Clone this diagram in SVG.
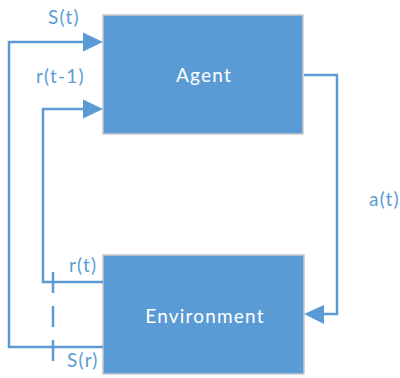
<svg xmlns="http://www.w3.org/2000/svg" width="400" height="378" viewBox="0 0 400 378">
<style>
.box{fill:#5b9bd5;stroke:#c8c8c8;stroke-width:1.5}
.bt{fill:#ffffff;font-family:Lato,"Open Sans",sans-serif;font-size:19px;letter-spacing:1.2px;text-anchor:middle}
.lb{fill:#5b9bd5;font-family:Lato,"Open Sans",sans-serif;font-size:19px;letter-spacing:1.2px}
.ln{fill:none;stroke:#5b9bd5;stroke-width:2.5}
.ah{fill:#5b9bd5}
</style>
<rect width="400" height="378" fill="#ffffff"/>
<g id="agent">
<rect class="box" x="103" y="15" width="200" height="119"/>
<text class="bt" x="204" y="82">Agent</text>
</g>
<g id="environment">
<rect class="box" x="103" y="255" width="201" height="119"/>
<text class="bt" x="205" y="323">Environment</text>
</g>
<g id="connectors">
<polyline class="ln" points="304,75 337,75 337,314 320,314"/>
<polygon class="ah" points="304,314 324,305 324,324"/>
<polyline class="ln" points="103,347 9,347 9,42 86,42"/>
<polygon class="ah" points="103,42 83,32.5 83,51.5"/>
<polyline class="ln" points="103,282 43,282 43,109 86,109"/>
<polygon class="ah" points="103,109 83,99.5 83,118.5"/>
<line class="ln" x1="53" y1="272" x2="53" y2="362" stroke-dasharray="21,13"/>
</g>
<g id="labels">
<text class="lb" x="48" y="24">S(t)</text>
<text class="lb" x="36" y="83">r(t-1)</text>
<text class="lb" x="69" y="272">r(t)</text>
<text class="lb" x="67" y="367">S(r)</text>
<text class="lb" x="369" y="206">a(t)</text>
</g>
</svg>
